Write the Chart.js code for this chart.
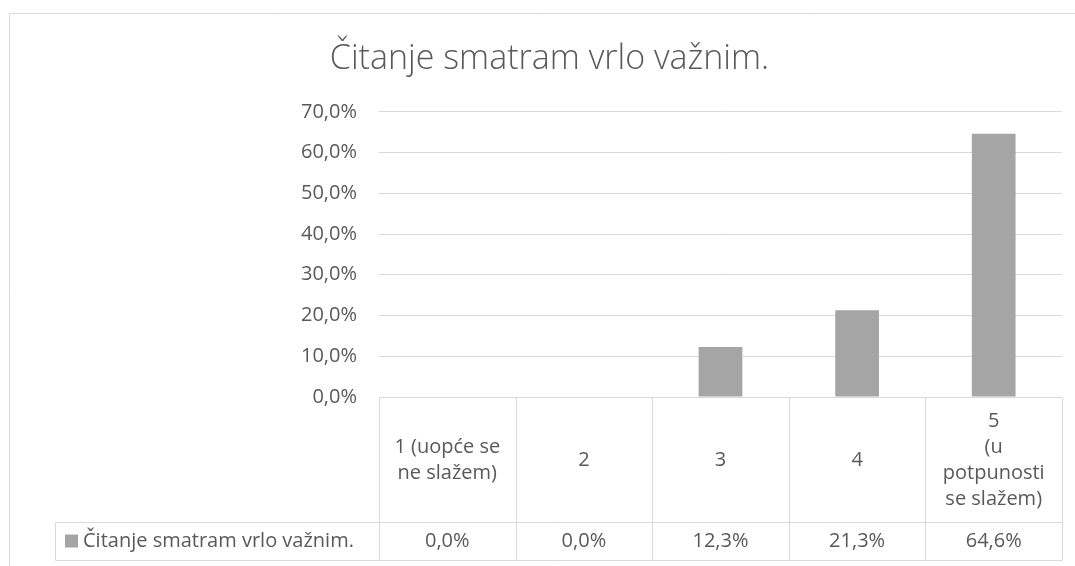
<!DOCTYPE html>
<html>
<head>
<meta charset="utf-8">
<title>Čitanje smatram vrlo važnim.</title>
<script src="https://cdn.jsdelivr.net/npm/chart.js@4"></script>
<style>
    html, body { margin: 0; padding: 0; background: #ffffff; }
    #chart { display: block; }
</style>
</head>
<body>
<canvas id="chart" width="1075" height="566"></canvas>
<script>
// ===============================================
// Data
// ===============================================
const chartTitle = 'Čitanje smatram vrlo važnim.';
const seriesName = 'Čitanje smatram vrlo važnim.';
const categories = [
    ['1 (uopće se', 'ne slažem)'],
    '2',
    '3',
    '4',
    ['5', '(u', 'potpunosti', 'se slažem)']
];
const values = [0.0, 0.0, 12.3, 21.3, 64.6];
const yTicks = [0, 10, 20, 30, 40, 50, 60, 70];

const TEXT = '#595959';
const LINE = '#d9d9d9';
const BAR = '#a5a5a5';
const FONT = '"Open Sans", "DejaVu Sans", sans-serif';

function pct(v) {
    return v.toFixed(1).replace('.', ',') + '%';
}

// ===============================================
// Frame + data table under the plot
// ===============================================
const tablePlugin = {
    id: 'dataTable',
    beforeDraw(chart) {
        const ctx = chart.ctx;
        ctx.save();
        ctx.fillStyle = '#ffffff';
        ctx.fillRect(0, 0, chart.width, chart.height);
        ctx.strokeStyle = LINE;
        ctx.lineWidth = 1;
        ctx.beginPath();
        ctx.moveTo(9.5, chart.height);
        ctx.lineTo(9.5, 13.5);
        ctx.lineTo(chart.width, 13.5);
        ctx.stroke();
        ctx.restore();
    },
    afterDraw(chart) {
        const ctx = chart.ctx;
        const area = chart.chartArea;
        const x = chart.scales.x;
        const n = categories.length;
        const colW = (area.right - area.left) / n;
        const top = Math.round(area.bottom) + 0.5;
        const mid = top + 125;
        const bottom = mid + 38;
        const legendLeft = 55.5;

        ctx.save();
        ctx.strokeStyle = LINE;
        ctx.lineWidth = 1;
        ctx.beginPath();
        ctx.moveTo(area.left, top); ctx.lineTo(area.right, top);
        ctx.moveTo(legendLeft, mid); ctx.lineTo(area.right, mid);
        ctx.moveTo(legendLeft, bottom); ctx.lineTo(area.right, bottom);
        ctx.moveTo(legendLeft, mid); ctx.lineTo(legendLeft, bottom);
        for (let i = 0; i <= n; i++) {
            const bx = Math.round(area.left + i * colW) + 0.5;
            ctx.moveTo(bx, top); ctx.lineTo(bx, bottom);
        }
        ctx.stroke();

        ctx.fillStyle = TEXT;
        ctx.font = '20px ' + FONT;
        ctx.textAlign = 'center';
        ctx.textBaseline = 'middle';
        const lh = 26;
        categories.forEach((c, i) => {
            const lines = Array.isArray(c) ? c : [c];
            const cx = x.getPixelForValue(i);
            const cy = (top + mid) / 2;
            const y0 = cy - (lines.length - 1) * lh / 2;
            lines.forEach((t, j) => ctx.fillText(t, cx, y0 + j * lh));
            ctx.fillText(pct(values[i]), cx, (mid + bottom) / 2);
        });

        // legend key in the first cell
        ctx.fillStyle = BAR;
        ctx.fillRect(65, (mid + bottom) / 2 - 7, 13, 13);
        ctx.fillStyle = TEXT;
        ctx.textAlign = 'left';
        ctx.fillText(seriesName, 83, (mid + bottom) / 2);
        ctx.restore();
    }
};

// ===============================================
// Chart
// ===============================================
new Chart(document.getElementById('chart'), {
    type: 'bar',
    data: {
        labels: categories,
        datasets: [{
            label: seriesName,
            data: values,
            backgroundColor: BAR,
            borderWidth: 0,
            barPercentage: 0.32,
            categoryPercentage: 1
        }]
    },
    options: {
        responsive: false,
        animation: false,
        layout: { padding: { left: 37, right: 13, top: 0, bottom: 0 } },
        plugins: {
            legend: { display: false },
            tooltip: { enabled: false },
            title: {
                display: true,
                text: chartTitle,
                color: TEXT,
                font: { family: FONT, size: 34, weight: '300' },
                padding: { top: 39, bottom: 32 }
            }
        },
        scales: {
            x: {
                grid: { display: false },
                border: { display: false },
                ticks: { display: false },
                afterFit(scale) { scale.height = 169; }
            },
            y: {
                min: 0,
                max: yTicks[yTicks.length - 1],
                afterBuildTicks(scale) { scale.ticks = yTicks.map(v => ({ value: v })); },
                grid: { color: LINE, lineWidth: 1, drawTicks: false },
                border: { display: false },
                ticks: {
                    color: TEXT,
                    font: { family: FONT, size: 20 },
                    padding: 22,
                    callback: v => pct(v)
                },
                afterFit(scale) { scale.width = 342; }
            }
        }
    },
    plugins: [tablePlugin]
});
</script>
</body>
</html>
